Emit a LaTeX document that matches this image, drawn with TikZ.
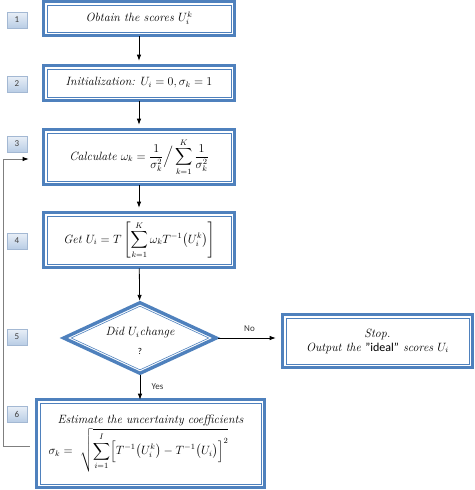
\documentclass[tikz,border=0pt]{standalone}
\usepackage{amsmath, amssymb}
\usepackage{fontspec}
\setsansfont{Carlito}
\usepackage{tikz}
\usetikzlibrary{arrows.meta, shapes.geometric, shadows, calc}
\definecolor{boxblue}{HTML}{4F81BD}
\definecolor{numtop}{HTML}{E9EFF7}
\definecolor{numbot}{HTML}{B9CDE5}
\definecolor{numdraw}{HTML}{A3B8D3}
\definecolor{loopgray}{HTML}{7F7F7F}

\begin{document}
\begin{tikzpicture}[x=1pt,y=-1pt]
\tikzset{stepbox/.style={rectangle,draw=boxblue,line width=3.4pt,outer sep=0pt,
            align=center,font=\itshape\fontsize{12}{14}\selectfont,
            path picture={\draw[boxblue,line width=0.6pt]
              ([shift={(3.2pt,-3.2pt)}]path picture bounding box.north west) rectangle
              ([shift={(-3.2pt,3.2pt)}]path picture bounding box.south east);}},
         decbox/.style={diamond,draw=boxblue,line width=3.4pt,outer sep=0pt,
            aspect=2.1,inner sep=0pt,align=center,font=\itshape\fontsize{12}{14}\selectfont,
            path picture={\draw[boxblue,line width=0.6pt]
              ([yshift=-3.5pt]path picture bounding box.north) --
              ([xshift=-7.5pt]path picture bounding box.east) --
              ([yshift=3.5pt]path picture bounding box.south) --
              ([xshift=7.5pt]path picture bounding box.west) -- cycle;}},
         numbox/.style={rectangle,draw=numdraw,line width=0.5pt,top color=numtop,
            bottom color=numbot,minimum width=20pt,minimum height=16pt,inner sep=0pt,
            font=\sffamily\small,text=black!75,
            drop shadow={shadow xshift=0.8pt,shadow yshift=-0.8pt,opacity=0.25}},
         flow/.style={line width=0.8pt,-{Latex[length=6pt,width=4.5pt]}},
         loopline/.style={line width=0.9pt,color=loopgray,-{Latex[length=6pt,width=4.5pt,color=black]}},
         lbl/.style={font=\sffamily\small,text=black!80}}
\def\cx{139}
% Frame
\useasboundingbox (0,0) rectangle (474,490);
% Steps
\node[stepbox,minimum width=190.6pt,minimum height=33.6pt] (obtain) at (\cx,18.5)
  {Obtain the scores $U_i^k$};
\node[stepbox,minimum width=190.6pt,minimum height=34.6pt] (init) at (\cx,83)
  {Initialization: $U_i=0,\sigma_k=1$};
\node[stepbox,minimum width=190.6pt,minimum height=54.6pt] (calc) at (\cx,157)
  {Calculate $\omega_k=\dfrac{1}{\sigma_k^2}\Big/\displaystyle\sum_{k=1}^{K}\dfrac{1}{\sigma_k^2}$};
\node[stepbox,minimum width=190.6pt,minimum height=54.6pt] (getu) at (\cx,240)
  {Get $U_i=T\left[\displaystyle\sum_{k=1}^{K}\omega_kT^{-1}\bigl(U_i^k\bigr)\right]$};
% Decision
\node[decbox,minimum width=152.6pt,minimum height=70.6pt] (change) at (140,338)
  {\rule{0pt}{14pt}Did $U_i$change\\[5pt]{\sffamily\upshape\small ?}};
\node[stepbox,minimum width=189.6pt,minimum height=52.6pt] (stop) at (377.5,341)
  {Stop.\\Output the {\sffamily\upshape "ideal"} scores $U_i$};
\node[stepbox,minimum width=227.6pt,minimum height=87.6pt,text width=218pt,align=left]
  (estimate) at (150.5,443.5)
  {{\centering Estimate the uncertainty coefficients\par}\vspace{2pt}
   \hspace*{7pt}$\sigma_k=\ \sqrt{\displaystyle\sum_{i=1}^{I}\Bigl[T^{-1}\bigl(U_i^k\bigr)-T^{-1}\bigl(U_i\bigr)\Bigr]^2}$};
% Step numbers
\foreach \n/\y in {1/20,2/84,3/144,4/241,5/337,6/414}
  \node[numbox] (num\n) at (17,\y) {\n};
% Connectors
\draw[flow,shorten <=1pt,shorten >=5pt] (obtain) -- (init);
\draw[flow,shorten <=1pt,shorten >=5pt] (init) -- (calc);
\draw[flow,shorten <=1pt,shorten >=5pt] (calc) -- (getu);
\draw[flow,shorten <=1pt,shorten >=2pt] (getu) -- (change);
\draw[flow,shorten <=2pt,shorten >=7pt] (change.east) -- (change.east -| stop.west)
  node[lbl,midway,above=3pt] {No};
\draw[flow,shorten <=2pt] (change.south) -- (change.south |- estimate.north)
  coordinate[midway] (yesmid);
\node[lbl,right=8pt] (yes) at (yesmid) {Yes};
% Loop back
\coordinate (loopstart) at ([xshift=-7pt,yshift=-2.5pt]estimate.west);
\coordinate (loopend) at ([xshift=-15pt,yshift=-2pt]calc.west);
\draw[loopline] (loopstart) -- ++(-26,0) |- (loopend);
\end{tikzpicture}
\end{document}
